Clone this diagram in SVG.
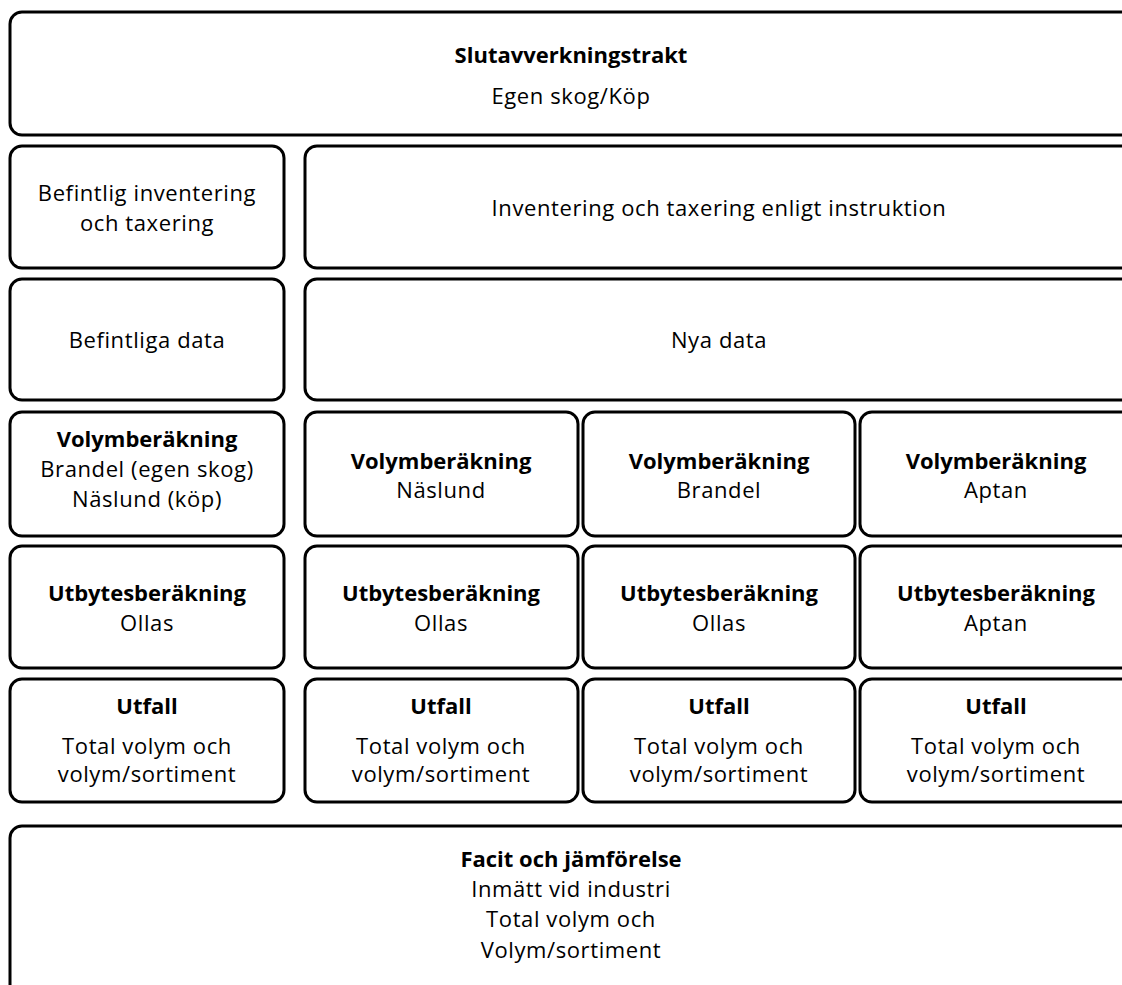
<svg xmlns="http://www.w3.org/2000/svg" width="1122" height="985" viewBox="0 0 1122 985">
<style>
rect{fill:#fff;stroke:#000;stroke-width:3}
text{font-family:"Open Sans","Liberation Sans",sans-serif;font-size:22px;text-anchor:middle;fill:#000;letter-spacing:0.6px}
.b{font-weight:bold;letter-spacing:0}
</style>
<rect x="0" y="0" width="1122" height="985" style="stroke:none"/>
<g id="n-top"><rect x="10" y="12" width="1123" height="123" rx="12"/><text class="b" x="571" y="63">Slutavverkningstrakt</text><text x="571" y="104">Egen skog/Köp</text></g>
<g id="n-befinv"><rect x="10" y="146" width="274" height="122" rx="12"/><text x="147" y="201">Befintlig inventering</text><text x="147" y="231">och taxering</text></g>
<g id="n-inv"><rect x="305" y="146" width="828" height="122" rx="12"/><text x="719" y="216">Inventering och taxering enligt instruktion</text></g>
<g id="n-befdata"><rect x="10" y="279" width="274" height="121" rx="12"/><text x="147" y="348">Befintliga data</text></g>
<g id="n-nya"><rect x="305" y="279" width="828" height="121" rx="12"/><text x="719" y="348">Nya data</text></g>
<g id="n-vol1"><rect x="10" y="412" width="274" height="124" rx="12"/><text class="b" x="147" y="447">Volymberäkning</text><text x="147" y="477">Brandel (egen skog)</text><text x="147" y="507">Näslund (köp)</text></g>
<g id="n-vol2"><rect x="305" y="412" width="273" height="124" rx="12"/><text class="b" x="441" y="469">Volymberäkning</text><text x="441" y="498">Näslund</text></g>
<g id="n-vol3"><rect x="583" y="412" width="272" height="124" rx="12"/><text class="b" x="719" y="469">Volymberäkning</text><text x="719" y="498">Brandel</text></g>
<g id="n-vol4"><rect x="860" y="412" width="273" height="124" rx="12"/><text class="b" x="996" y="469">Volymberäkning</text><text x="996" y="498">Aptan</text></g>
<g id="n-utb1"><rect x="10" y="546" width="274" height="122" rx="12"/><text class="b" x="147" y="601">Utbytesberäkning</text><text x="147" y="631">Ollas</text></g>
<g id="n-utb2"><rect x="305" y="546" width="273" height="122" rx="12"/><text class="b" x="441" y="601">Utbytesberäkning</text><text x="441" y="631">Ollas</text></g>
<g id="n-utb3"><rect x="583" y="546" width="272" height="122" rx="12"/><text class="b" x="719" y="601">Utbytesberäkning</text><text x="719" y="631">Ollas</text></g>
<g id="n-utb4"><rect x="860" y="546" width="273" height="122" rx="12"/><text class="b" x="996" y="601">Utbytesberäkning</text><text x="996" y="631">Aptan</text></g>
<g id="n-utf1"><rect x="10" y="679" width="274" height="123" rx="12"/><text class="b" x="147" y="714">Utfall</text><text x="147" y="754">Total volym och</text><text x="147" y="782">volym/sortiment</text></g>
<g id="n-utf2"><rect x="305" y="679" width="273" height="123" rx="12"/><text class="b" x="441" y="714">Utfall</text><text x="441" y="754">Total volym och</text><text x="441" y="782">volym/sortiment</text></g>
<g id="n-utf3"><rect x="583" y="679" width="272" height="123" rx="12"/><text class="b" x="719" y="714">Utfall</text><text x="719" y="754">Total volym och</text><text x="719" y="782">volym/sortiment</text></g>
<g id="n-utf4"><rect x="860" y="679" width="273" height="123" rx="12"/><text class="b" x="996" y="714">Utfall</text><text x="996" y="754">Total volym och</text><text x="996" y="782">volym/sortiment</text></g>
<g id="n-facit"><rect x="10" y="826" width="1123" height="170" rx="12"/><text class="b" x="571" y="867">Facit och jämförelse</text><text x="571" y="897">Inmätt vid industri</text><text x="571" y="927">Total volym och</text><text x="571" y="958">Volym/sortiment</text></g>
<g id="connectors"/>
</svg>
